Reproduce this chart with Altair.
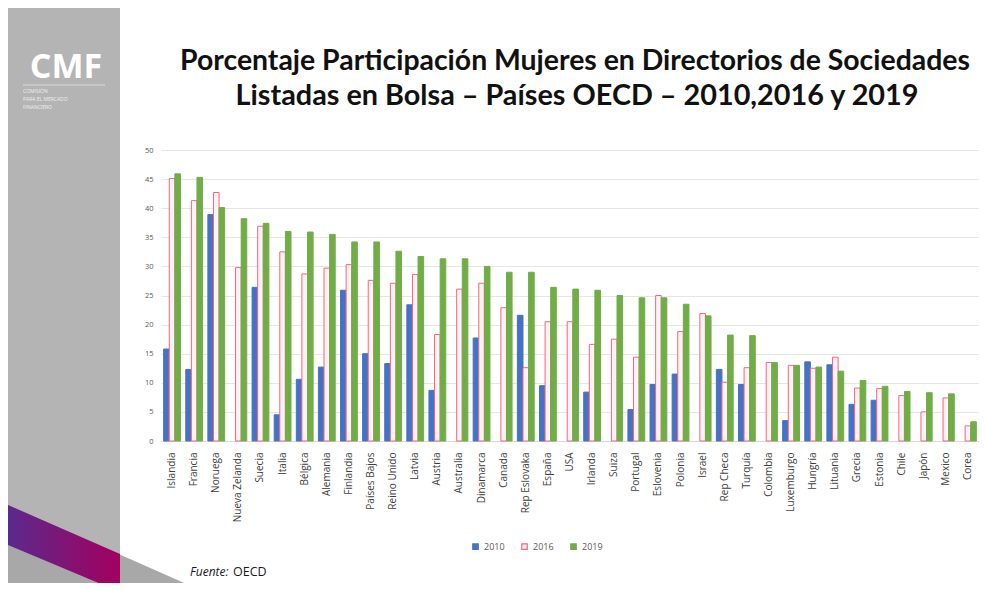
import altair as alt
import pandas as pd

paises = ["Islandia", "Francia", "Noruega", "Nueva Zelanda", "Suecia", "Italia",
          "Bélgica", "Alemania", "Finlandia", "Países Bajos", "Reino Unido", "Latvia",
          "Austria", "Australia", "Dinamarca", "Canada", "Rep Eslovaka", "España",
          "USA", "Irlanda", "Suiza", "Portugal", "Eslovenia", "Polonia", "Israel",
          "Rep Checa", "Turquía", "Colombia", "Luxemburgo", "Hungría", "Lituania",
          "Grecia", "Estonia", "Chile", "Japón", "Mexico", "Corea"]

v2010 = [15.8, 12.3, 38.9, None, 26.4, 4.5, 10.6, 12.7, 25.9, 15.0, 13.3, 23.4,
         8.7, None, 17.7, None, 21.6, 9.5, None, 8.4, None, 5.4, 9.7, 11.5, None,
         12.3, 9.7, None, 3.5, 13.6, 13.1, 6.3, 7.0, None, None, None, None]

v2016 = [45.1, 41.3, 42.7, 29.8, 36.9, 32.5, 28.7, 29.7, 30.3, 27.6, 27.1, 28.6,
         18.3, 26.1, 27.1, 22.9, 12.6, 20.5, 20.5, 16.6, 17.5, 14.4, 25.0, 18.8, 21.9,
         10.1, 12.6, 13.5, 13.0, 12.5, 14.4, 9.1, 9.0, 7.8, 5.0, 7.4, 2.6]

v2019 = [45.9, 45.3, 40.1, 38.2, 37.4, 36.0, 35.9, 35.5, 34.2, 34.2, 32.6, 31.7,
         31.3, 31.3, 30.0, 29.0, 29.0, 26.4, 26.1, 25.9, 25.0, 24.6, 24.6, 23.5, 21.5,
         18.2, 18.1, 13.5, 13.0, 12.7, 12.0, 10.4, 9.4, 8.5, 8.3, 8.1, 3.3]

anios = ["2010", "2016", "2019"]
y_ticks = [0, 5, 10, 15, 20, 25, 30, 35, 40, 45, 50]

titulo1 = "Porcentaje Participación Mujeres en Directorios de Sociedades"
titulo2 = "Listadas en Bolsa – Países OECD – 2010,2016 y 2019"

rows = []
for i, p in enumerate(paises):
    for a, serie in zip(anios, [v2010, v2016, v2019]):
        if serie[i] is not None:
            rows.append({"pais": p, "anio": a, "valor": serie[i]})
df = pd.DataFrame(rows)

fills = ["#4472C4", "#FFF2F5", "#70AD47"]
strokes = ["#4472C4", "#F9637F", "#70AD47"]

leg = alt.Legend(title=None, orient="none", legendX=310, legendY=392,
                 direction="horizontal", symbolType="square", symbolSize=30,
                 labelFontSize=9, labelColor="#595959", labelFont="Open Sans",
                 columnPadding=14, symbolStrokeWidth=1.2, labelOffset=4)

bars = alt.Chart(df).mark_bar(strokeWidth=1).encode(
    x=alt.X("pais:N", sort=paises,
            scale=alt.Scale(paddingInner=0.24, paddingOuter=0.12),
            axis=alt.Axis(title=None, labelAngle=-90, labelFontSize=10,
                          labelColor="#404040", labelFont="Open Sans",
                          labelPadding=11, ticks=False, domainColor="#D9D9D9")),
    xOffset=alt.XOffset("anio:N", scale=alt.Scale(domain=anios, paddingInner=0, paddingOuter=0)),
    y=alt.Y("valor:Q", scale=alt.Scale(domain=[0, 50], nice=False),
            axis=alt.Axis(title=None, values=y_ticks, labelFontSize=7.5,
                          labelColor="#595959", labelFont="Open Sans",
                          labelPadding=8, ticks=False, domain=False,
                          gridColor="#E6E6E6")),
    fill=alt.Fill("anio:N", scale=alt.Scale(domain=anios, range=fills), legend=leg),
    stroke=alt.Stroke("anio:N", scale=alt.Scale(domain=anios, range=strokes), legend=leg),
)

one = alt.Data(values=[{"k": 1}])

panel = alt.Chart(one).mark_rect(color="#B4B4B4").encode(
    x=alt.value(-153), x2=alt.value(-41), y=alt.value(-142), y2=alt.value(445))

band = alt.Chart(one).mark_point(
    shape="M -153 355 L 39 440 L 39 470 L -153 470 Z",
    size=4, filled=True, opacity=1, strokeWidth=0, color="#A8A8A8"
).encode(x=alt.value(0), y=alt.value(0))

stripe = alt.Chart(one).mark_point(
    shape="M -153 355 L -41 404 L -41 442 L -153 395 Z",
    size=4, filled=True, opacity=1, strokeWidth=0,
    fill=alt.LinearGradient(gradient="linear", x1=0, x2=1, y1=0, y2=0,
                            stops=[alt.GradientStop(color="#5A2A8C", offset=0),
                                   alt.GradientStop(color="#A3005F", offset=1)])
).encode(x=alt.value(0), y=alt.value(0))

logo = alt.Chart(one).mark_text(
    text="CMF", font="Open Sans", fontWeight="bold", fontSize=34, color="white",
    align="center", baseline="middle"
).encode(x=alt.value(-95), y=alt.value(-82))

logo_line = alt.Chart(one).mark_rule(color="white", opacity=0.5, strokeWidth=1).encode(
    x=alt.value(-138), x2=alt.value(-56), y=alt.value(-65))

logo_sub = alt.Chart(one).mark_text(
    text="COMISIÓN\nPARA EL MERCADO\nFINANCIERO", lineBreak="\n", lineHeight=8,
    font="Open Sans", fontSize=5, color="white", opacity=0.8,
    align="left", baseline="middle"
).encode(x=alt.value(-138), y=alt.value(-59))

tit1 = alt.Chart(one).mark_text(
    text=titulo1, font="Lato", fontWeight="bold", fontSize=28.4, color="#111111",
    align="center", baseline="middle"
).encode(x=alt.value(414), y=alt.value(-89))

tit2 = alt.Chart(one).mark_text(
    text=titulo2, font="Lato", fontWeight="bold", fontSize=28.8, color="#111111",
    align="center", baseline="middle"
).encode(x=alt.value(416), y=alt.value(-54))

fuente1 = alt.Chart(one).mark_text(
    text="Fuente:", font="Open Sans", fontStyle="italic", fontSize=12,
    color="#1A1A1A", align="left", baseline="middle"
).encode(x=alt.value(29), y=alt.value(422))

fuente2 = alt.Chart(one).mark_text(
    text="OECD", font="Open Sans", fontSize=12.5,
    color="#1A1A1A", align="left", baseline="middle"
).encode(x=alt.value(72), y=alt.value(422))

chart = alt.layer(
    panel, band, stripe, logo, logo_line, logo_sub, tit1, tit2, bars, fuente1, fuente2
).properties(
    width=818, height=291,
    autosize=alt.AutoSizeParams(type="none"),
    padding={"left": 153, "top": 142, "right": 0, "bottom": 142},
).configure_view(strokeWidth=0)

chart.save("out.html", embed_options={"renderer": "svg", "actions": False})
